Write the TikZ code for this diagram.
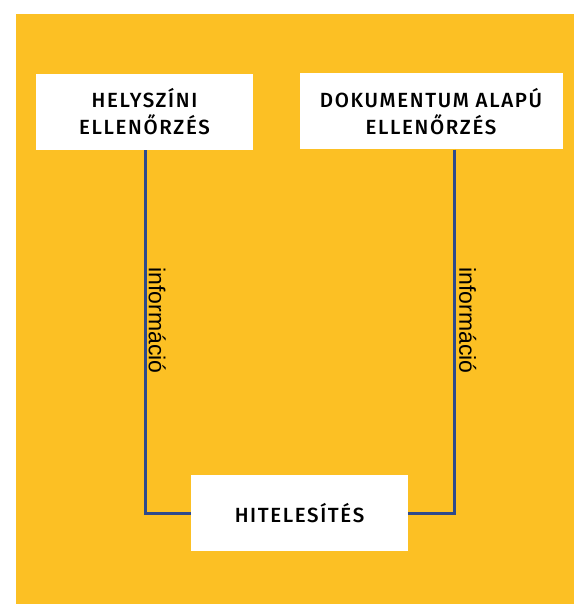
\documentclass[tikz,border=0pt]{standalone}
\usepackage{fontspec}
\setmainfont{Fira Sans}[LetterSpace=8,UprightFont=* Medium]
\newfontfamily\labfont{Liberation Sans}
\definecolor{bgyellow}{RGB}{252,192,36}
\definecolor{linkblue}{RGB}{46,74,140}
\begin{document}
\begin{tikzpicture}[x=1pt,y=-1pt,
  boxnode/.style={fill=white,draw=none,inner sep=0pt,align=center,font=\fontsize{20.5}{27}\selectfont},
  link/.style={draw=linkblue,line width=3pt},
  lab/.style={font=\labfont\fontsize{23}{26}\selectfont,rotate=-90,inner sep=0pt,anchor=south}]
\useasboundingbox (0,0) rectangle (574,604);
\fill[white] (0,0) rectangle (574,604);
\fill[bgyellow] (16,14) rectangle (574,604);
\node[boxnode,minimum width=217pt,minimum height=76pt] (hely) at (144.5,112) {HELYSZÍNI\\ELLENŐRZÉS};
\node[boxnode,minimum width=263pt,minimum height=76pt] (doku) at (431,111.5) {DOKUMENTUM ALAPÚ\\ELLENŐRZÉS};
\node[boxnode,minimum width=217pt,minimum height=76pt] (hit) at (299.5,513) {HITELESÍTÉS};
\coordinate (lc) at (145,513);
\coordinate (rc) at (454,513);
\draw[link] (hely.south -| lc) -- (lc) -- (hit.west);
\draw[link] (doku.south -| rc) -- (rc) -- (hit.east);
\node[lab] (l1) at (148.5,320.5) {információ};
\node[lab] (l2) at (459,320.5) {információ};
\end{tikzpicture}
\end{document}
